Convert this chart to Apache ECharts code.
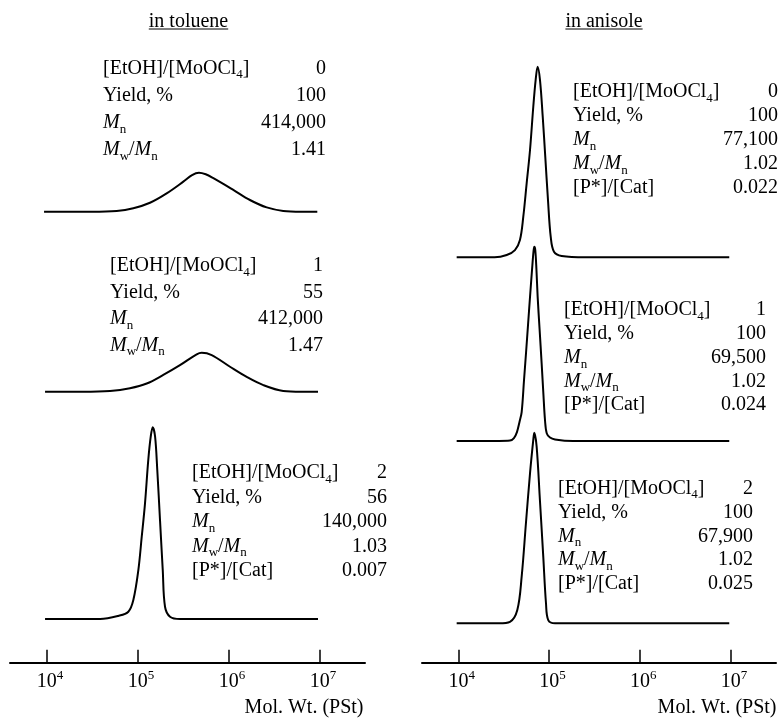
<!DOCTYPE html>
<html><head><meta charset="utf-8">
<script src="https://cdn.jsdelivr.net/npm/echarts@6/dist/echarts.min.js"></script>
<style>html,body{margin:0;padding:0;background:#fff}#c{width:784px;height:722px}</style>
</head><body><div id="c"></div><script>
// ---------------- DATA ----------------
const panelTitles = ['in toluene', 'in anisole'];
const tickExponents = [4, 5, 6, 7];
const axisTitle = 'Mol. Wt. (PSt)';
const rowLabels = ['[EtOH]/[MoOCl{sub|4}]', 'Yield, %', '{i|M}{sub|n}', '{i|M}{sub|w}/{i|M}{sub|n}', '[P*]/[Cat]'];

// toluene: [EtOH]/[MoOCl4] = 0, 1, 2
const tolRatio = ['0', '1', '2'];
const tolYield = ['100', '55', '56'];
const tolMn = ['414,000', '412,000', '140,000'];
const tolPDI = ['1.41', '1.47', '1.03'];
const tolPcat = [null, null, '0.007'];
// anisole: [EtOH]/[MoOCl4] = 0, 1, 2
const aniRatio = ['0', '1', '2'];
const aniYield = ['100', '100', '100'];
const aniMn = ['77,100', '69,500', '67,900'];
const aniPDI = ['1.02', '1.02', '1.02'];
const aniPcat = ['0.022', '0.024', '0.025'];

// GPC traces: x = log10(MW), y = relative RI signal
const tolLogM0 = [3.974, 4.50, 4.772, 4.955, 5.138, 5.321, 5.504, 5.600, 5.676, 5.750, 5.834, 6.053, 6.236, 6.420, 6.602, 6.80, 6.976];
const tolSig0  = [0, 0, 0.02, 0.09, 0.23, 0.47, 0.77, 0.94, 1.0, 0.96, 0.86, 0.56, 0.30, 0.11, 0.02, 0, 0];
const tolLogM1 = [3.985, 4.40, 4.699, 4.918, 5.102, 5.284, 5.467, 5.651, 5.706, 5.816, 6.017, 6.200, 6.383, 6.602, 6.80, 6.984];
const tolSig1  = [0, 0, 0.02, 0.09, 0.21, 0.43, 0.68, 0.96, 1.0, 0.94, 0.64, 0.38, 0.17, 0.02, 0, 0];
const tolLogM2 = [3.985, 4.589, 4.789, 4.900, 4.955, 5.010, 5.047, 5.083, 5.119, 5.146, 5.168, 5.194, 5.218, 5.248, 5.278, 5.303, 5.358, 5.468, 6.984];
const tolSig2  = [0, 0, 0.016, 0.038, 0.099, 0.255, 0.428, 0.602, 0.829, 0.951, 1.0, 0.951, 0.777, 0.516, 0.256, 0.064, 0.012, 0, 0];

const aniLogM0 = [3.982, 4.40, 4.533, 4.624, 4.679, 4.716, 4.753, 4.790, 4.826, 4.852, 4.874, 4.900, 4.930, 4.958, 4.988, 5.018, 5.054, 5.139, 5.40, 6.985];
const aniSig0  = [0, 0, 0.012, 0.038, 0.091, 0.213, 0.388, 0.563, 0.790, 0.930, 1.0, 0.930, 0.738, 0.528, 0.300, 0.108, 0.029, 0.007, 0, 0];
const aniLogM1 = [3.982, 4.45, 4.569, 4.613, 4.646, 4.674, 4.698, 4.724, 4.746, 4.768, 4.790, 4.812, 4.828, 4.837, 4.848, 4.861, 4.874, 4.896, 4.918, 4.938, 4.955, 4.974, 5.010, 5.065, 5.263, 6.985];
const aniSig1  = [0, 0, 0.002, 0.015, 0.046, 0.098, 0.149, 0.314, 0.453, 0.597, 0.741, 0.880, 0.973, 1.0, 0.983, 0.880, 0.743, 0.571, 0.400, 0.237, 0.108, 0.040, 0.018, 0.008, 0, 0];
const aniLogM2 = [3.982, 4.45, 4.569, 4.650, 4.698, 4.745, 4.790, 4.826, 4.837, 4.863, 4.899, 4.936, 4.966, 4.991, 5.065, 5.30, 6.985];
const aniSig2  = [0, 0, 0.008, 0.070, 0.245, 0.525, 0.787, 0.962, 1.0, 0.927, 0.647, 0.350, 0.105, 0.017, 0, 0, 0];

// ---------------- LAYOUT / STYLE ----------------
const FONT = '"Liberation Serif","Times New Roman",serif';
const FS = 20;
const SUBFS = 13;
const LH = 26;
const INK = '#000';
const X_MIN = 3.6, X_MAX = 7.5;
const panels = [{left: 10, width: 355}, {left: 422, width: 354}];
const curveBoxes = [
  [{top: 172.7, h: 39}, {top: 352.7, h: 39}, {top: 427.3, h: 191.7}],
  [{top: 66.7, h: 190.6}, {top: 246.7, h: 194.3}, {top: 432.7, h: 190.6}]
];
const axisBox = {top: 630, h: 32.7};
const blockPos = [
  [{x: 103, vx: 326, y: 68.5, dy: 27.2}, {x: 110, vx: 323, y: 266, dy: 26.5}, {x: 192, vx: 387, y: 473, dy: 24.5}],
  [{x: 573, vx: 778, y: 92, dy: 24}, {x: 564, vx: 766, y: 310, dy: 23.8}, {x: 558, vx: 753, y: 488.5, dy: 23.9}]
];

const traces = [
  [[tolLogM0, tolSig0], [tolLogM1, tolSig1], [tolLogM2, tolSig2]],
  [[aniLogM0, aniSig0], [aniLogM1, aniSig1], [aniLogM2, aniSig2]]
];
const tables = [
  [tolRatio, tolYield, tolMn, tolPDI, tolPcat],
  [aniRatio, aniYield, aniMn, aniPDI, aniPcat]
];

const richText = {
  sub: {fontFamily: FONT, fontSize: SUBFS, fill: INK, color: INK, verticalAlign: 'bottom'},
  i: {fontFamily: FONT, fontSize: FS, fontStyle: 'italic', fill: INK, color: INK, lineHeight: LH}
};

const grid = [], xAxis = [], yAxis = [], series = [];
panels.forEach((p, pi) => {
  curveBoxes[pi].forEach((b, ci) => {
    const gi = grid.length;
    grid.push({left: p.left, width: p.width, top: b.top, height: b.h});
    xAxis.push({gridIndex: gi, type: 'value', min: X_MIN, max: X_MAX, show: false});
    yAxis.push({gridIndex: gi, type: 'value', min: 0, max: 1, show: false});
    const [xs, ys] = traces[pi][ci];
    series.push({
      type: 'line', xAxisIndex: gi, yAxisIndex: gi,
      data: xs.map((x, k) => [x, ys[k]]),
      symbol: 'none', showSymbol: false, smooth: 0.35, clip: false, silent: true,
      lineStyle: {color: INK, width: 2}
    });
  });
  const gi = grid.length;
  grid.push({left: p.left, width: p.width, top: axisBox.top, height: axisBox.h});
  xAxis.push({
    gridIndex: gi, type: 'value', min: X_MIN, max: X_MAX, position: 'bottom',
    axisLine: {show: true, onZero: false, lineStyle: {color: INK, width: 2}},
    axisTick: {show: true, inside: true, length: 13, customValues: tickExponents, lineStyle: {color: INK, width: 1.5}},
    axisLabel: {
      show: true, customValues: tickExponents, margin: 6,
      formatter: v => '{b|10}{s|' + v + '}',
      rich: {
        b: {fontFamily: FONT, fontSize: FS, color: INK, lineHeight: LH, padding: [0, 0, 0, 7]},
        s: {fontFamily: FONT, fontSize: SUBFS, color: INK, verticalAlign: 'top'}
      }
    },
    splitLine: {show: false}
  });
  yAxis.push({gridIndex: gi, type: 'value', min: 0, max: 1, show: false});
});

// text measurement for underline
const mctx = document.createElement('canvas').getContext('2d');
mctx.font = FS + 'px ' + FONT;

const graphic = [];
const titleCenters = [188.5, 604];
panelTitles.forEach((t, i) => {
  const w = mctx.measureText(t).width;
  graphic.push({type: 'text', style: {x: titleCenters[i], y: 21.5, text: t, font: FS + 'px ' + FONT, fill: INK, align: 'center', verticalAlign: 'middle'}});
  graphic.push({type: 'line', shape: {x1: titleCenters[i] - w / 2, y1: 29, x2: titleCenters[i] + w / 2, y2: 29}, style: {stroke: INK, lineWidth: 1.2}});
});
[363.5, 776.5].forEach(x => {
  graphic.push({type: 'text', style: {x: x, y: 707.5, text: axisTitle, font: FS + 'px ' + FONT, fill: INK, align: 'right', verticalAlign: 'middle'}});
});
blockPos.forEach((pp, pi) => {
  pp.forEach((bp, ci) => {
    let row = 0;
    rowLabels.forEach((lab, r) => {
      const val = tables[pi][r][ci];
      if (val === null || val === undefined) return;
      const y = bp.y + row * bp.dy;
      graphic.push({type: 'text', style: {x: bp.x, y: y, text: lab, font: FS + 'px ' + FONT, lineHeight: LH, fill: INK, align: 'left', verticalAlign: 'middle', rich: richText}});
      graphic.push({type: 'text', style: {x: bp.vx, y: y, text: val, font: FS + 'px ' + FONT, fill: INK, align: 'right', verticalAlign: 'middle'}});
      row++;
    });
  });
});

const chart = echarts.init(document.getElementById('c'), null, {renderer: 'canvas'});
chart.setOption({
  animation: false,
  backgroundColor: '#fff',
  grid, xAxis, yAxis, series,
  graphic: {elements: graphic}
});
</script></body></html>
